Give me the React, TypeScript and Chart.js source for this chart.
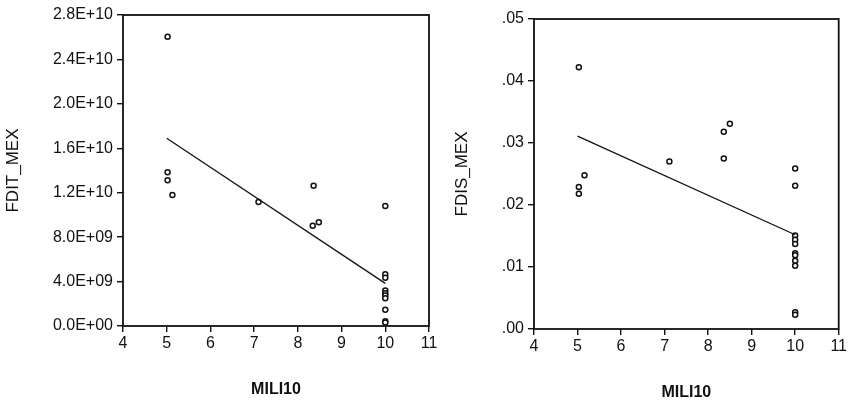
import React, { useEffect, useRef } from "react";
import { Chart, registerables } from "chart.js";

Chart.register(...registerables);

// Shared x categories (MILI10) and series values
const fditX = [5.02, 5.02, 5.02, 5.13, 7.1, 8.36, 8.34, 8.48, 10, 10, 10, 10, 10, 10, 10, 10, 10, 10];
const fditY = [2.605e10, 1.384e10, 1.312e10, 1.179e10, 1.116e10, 1.263e10, 9.03e9, 9.33e9, 1.08e10, 4.65e9, 4.35e9, 3.2e9, 2.95e9, 2.75e9, 2.5e9, 1.47e9, 4.2e8, 3.2e8];
const fditFitX = [5, 10];
const fditFitY = [1.69e10, 3.84e9];

const fdisX = [5.03, 5.03, 5.03, 5.16, 7.11, 8.36, 8.36, 8.5, 10, 10, 10, 10, 10, 10, 10, 10, 10, 10, 10];
const fdisY = [0.0422, 0.0229, 0.0218, 0.0248, 0.027, 0.0318, 0.0275, 0.0331, 0.0259, 0.0231, 0.0151, 0.0144, 0.0137, 0.0122, 0.0119, 0.011, 0.0102, 0.0027, 0.0023];
const fdisFitX = [5, 10];
const fdisFitY = [0.0311, 0.0152];

const xTickMin = 4;
const xTickMax = 11;
const fditMax = 2.8e10;
const fditStep = 4e9;
const fdisMax = 0.05;
const fdisStep = 0.01;

const FONT = "'Liberation Sans', Arial, Helvetica, sans-serif";

function expLabel(v: number): string {
  const [m, e] = v.toExponential(1).split("e");
  const sign = e.startsWith("-") ? "-" : "+";
  const digits = e.replace(/[+-]/, "").padStart(2, "0");
  return `${m}E${sign}${digits}`;
}

function decLabel(v: number): string {
  return v.toFixed(2).replace(/^0/, "");
}

const framePlugin = {
  id: "frame",
  afterDraw(chart: any) {
    const { ctx, chartArea } = chart;
    ctx.save();
    ctx.strokeStyle = "#111";
    ctx.lineWidth = 1.8;
    ctx.strokeRect(chartArea.left, chartArea.top, chartArea.right - chartArea.left, chartArea.bottom - chartArea.top);
    ctx.restore();
  },
};

interface Cfg {
  xs: number[];
  ys: number[];
  fitX: number[];
  fitY: number[];
  yMax: number;
  yStep: number;
  yTitle: string;
  fmt: (v: number) => string;
  yAxisWidth: number;
  xAxisHeight: number;
  padTop: number;
  padRight: number;
  yTitlePad: number;
  xTitlePad: number;
}

function makeChart(canvas: HTMLCanvasElement, c: Cfg) {
  const pts = c.xs.map((x, i) => ({ x, y: c.ys[i] }));
  const fit = c.fitX.map((x, i) => ({ x, y: c.fitY[i] }));
  return new Chart(canvas, {
    type: "scatter",
    data: {
      datasets: [
        {
          data: fit,
          showLine: true,
          borderColor: "#111",
          borderWidth: 1.3,
          pointRadius: 0,
          fill: false,
        } as any,
        {
          data: pts,
          pointStyle: "circle",
          pointRadius: 2.5,
          pointBorderWidth: 1.5,
          pointBorderColor: "#111",
          pointBackgroundColor: "#fff",
          borderColor: "#111",
          backgroundColor: "#fff",
        } as any,
      ],
    },
    options: {
      animation: false,
      responsive: false,
      maintainAspectRatio: false,
      layout: { padding: { top: c.padTop, right: c.padRight, left: 0, bottom: 0 } },
      plugins: { legend: { display: false }, tooltip: { enabled: false } },
      scales: {
        x: {
          type: "linear",
          min: xTickMin,
          max: xTickMax,
          ticks: { stepSize: 1, color: "#111", font: { family: FONT, size: 16 }, padding: 2, maxRotation: 0 },
          grid: { drawOnChartArea: false, drawTicks: true, tickLength: 6, color: "#111", lineWidth: 1.4 },
          border: { display: false },
          title: { display: true, text: "MILI10", color: "#111", font: { family: FONT, size: 16, weight: "bold" }, padding: { top: 0, bottom: c.xTitlePad } },
          afterFit: (s: any) => {
            s.height = c.xAxisHeight;
          },
        },
        y: {
          type: "linear",
          min: 0,
          max: c.yMax,
          ticks: { stepSize: c.yStep, color: "#111", font: { family: FONT, size: 16 }, padding: 4, callback: (v: any) => c.fmt(Number(v)) },
          grid: { drawOnChartArea: false, drawTicks: true, tickLength: 6, color: "#111", lineWidth: 1.4 },
          border: { display: false },
          title: { display: true, text: c.yTitle, color: "#111", font: { family: FONT, size: 17 }, padding: { top: c.yTitlePad, bottom: 0 } },
          afterFit: (s: any) => {
            s.width = c.yAxisWidth;
          },
        },
      },
    } as any,
    plugins: [framePlugin],
  });
}

export default function App() {
  const leftRef = useRef<HTMLCanvasElement>(null);
  const rightRef = useRef<HTMLCanvasElement>(null);

  useEffect(() => {
    const a = makeChart(leftRef.current!, {
      xs: fditX,
      ys: fditY,
      fitX: fditFitX,
      fitY: fditFitY,
      yMax: fditMax,
      yStep: fditStep,
      yTitle: "FDIT_MEX",
      fmt: expLabel,
      yAxisWidth: 123,
      xAxisHeight: 77,
      padTop: 15,
      padRight: 11,
      yTitlePad: 3,
      xTitlePad: 4,
    });
    const b = makeChart(rightRef.current!, {
      xs: fdisX,
      ys: fdisY,
      fitX: fdisFitX,
      fitY: fdisFitY,
      yMax: fdisMax,
      yStep: fdisStep,
      yTitle: "FDIS_MEX",
      fmt: decLabel,
      yAxisWidth: 94,
      xAxisHeight: 74,
      padTop: 19,
      padRight: 9,
      yTitlePad: 12,
      xTitlePad: 1,
    });
    return () => {
      a.destroy();
      b.destroy();
    };
  }, []);

  return (
    <div style={{ position: "fixed", left: 0, top: 0, width: 849, height: 403, background: "#fff" }}>
      <canvas ref={leftRef} width={440} height={403} style={{ position: "absolute", left: 0, top: 0, width: 440, height: 403 }} />
      <canvas ref={rightRef} width={409} height={403} style={{ position: "absolute", left: 440, top: 0, width: 409, height: 403 }} />
    </div>
  );
}
